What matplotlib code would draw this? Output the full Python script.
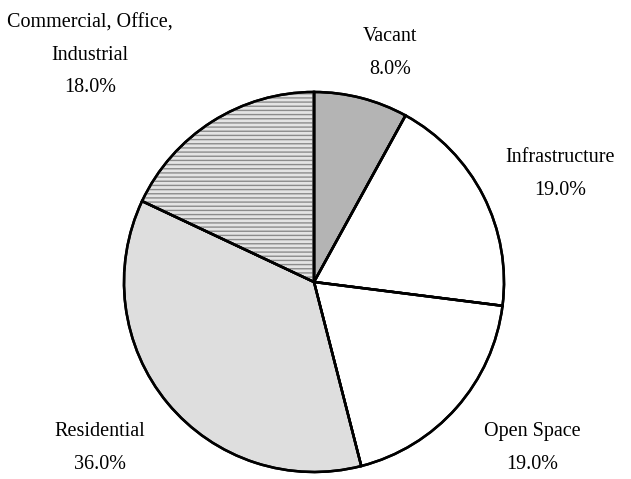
import matplotlib.pyplot as plt
from matplotlib.patches import Wedge

# land use shares, clockwise from 12 o'clock
labels = ['Vacant', 'Infrastructure', 'Open Space', 'Residential',
          'Commercial, Office,\nIndustrial']
shares = [8.0, 19.0, 19.0, 36.0, 18.0]
fills = ['#b4b4b4', 'white', 'white', '#dedede', '#e4e4e4']

plt.rcParams['font.family'] = ['Liberation Serif', 'DejaVu Serif']

fig = plt.figure(figsize=(6.31, 4.79), dpi=100)
ax = fig.add_axes([0, 0, 1, 1])

cx, cy, r = 314, 197, 190
wedges, _ = ax.pie(shares, colors=fills, startangle=90, counterclock=False,
                   center=(cx, cy), radius=r, frame=True,
                   wedgeprops=dict(edgecolor='black', linewidth=1.8))
ax.set_xlim(0, 631)
ax.set_ylim(0, 479)
ax.set_aspect('equal')
ax.axis('off')

# stripes on the commercial slice
w = wedges[4]
ax.add_patch(Wedge(w.center, w.r, w.theta1, w.theta2, facecolor='none',
                   edgecolor='#8c8c8c', linewidth=0, hatch='----', zorder=w.zorder + 0.1))
# redraw outline on top
for w in wedges:
    ax.add_patch(Wedge(w.center, w.r, w.theta1, w.theta2, facecolor='none',
                       edgecolor='black', linewidth=1.8, zorder=w.zorder + 0.2))

# label positions (x, y of the text block centre)
label_pos = [(390, 426), (560, 305), (532, 31), (100, 31), (90, 424)]
for lab, val, (x, y) in zip(labels, shares, label_pos):
    ax.text(x, y, f'{lab}\n{val:.1f}%', ha='center', va='center',
            fontsize=14.5, linespacing=1.95)

fig.savefig('out.png', dpi=100)
